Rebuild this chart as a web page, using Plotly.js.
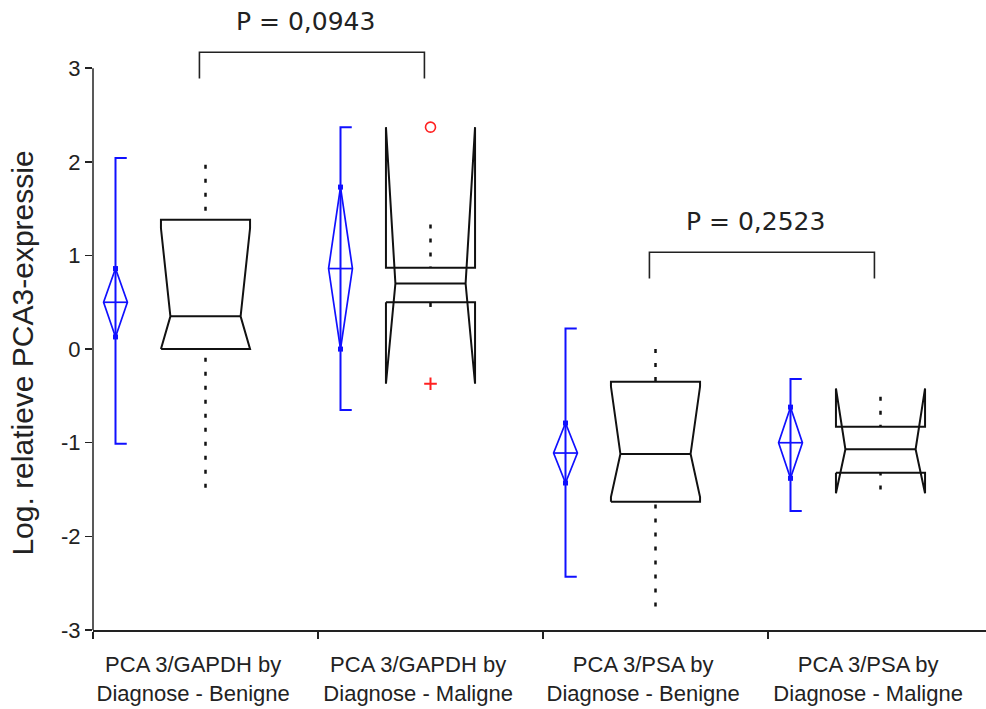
<!DOCTYPE html>
<html>
<head>
<meta charset="utf-8">
<script src="https://cdn.plot.ly/plotly-3.0.1.min.js"></script>
<style>html,body{margin:0;padding:0;background:#fff;}#chart{width:986px;height:709px;}</style>
</head>
<body>
<div id="chart"></div>
<script>
// ---- data ----
const categories = [
  "PCA 3/GAPDH by<br>Diagnose - Benigne",
  "PCA 3/GAPDH by<br>Diagnose - Maligne",
  "PCA 3/PSA by<br>Diagnose - Benigne",
  "PCA 3/PSA by<br>Diagnose - Maligne"
];
// notched box plots (quantiles)
const q1          = [0.00, 0.50, -1.63, -1.32];
const median      = [0.35, 0.70, -1.12, -1.07];
const q3          = [1.38, 0.87, -0.35, -0.83];
const notchLow    = [0.00, -0.37, -1.58, -1.54];
const notchHigh   = [1.29, 2.37, -0.40, -0.42];
const whiskerLow  = [-1.48, 0.45, -2.75, -1.50];
const whiskerHigh = [1.97, 1.33, 0.00, -0.51];
// outliers
const outlierCircleCat = [1];
const outlierCircleVal = [2.37];
const outlierPlusCat   = [1];
const outlierPlusVal   = [-0.37];
// means diamonds
const meanVal   = [0.50, 0.86, -1.11, -1.00];
const meanLow   = [0.13, 0.00, -1.43, -1.38];
const meanHigh  = [0.86, 1.73, -0.79, -0.62];
const rangeLow  = [-1.01, -0.65, -2.43, -1.73];
const rangeHigh = [2.04, 2.37, 0.22, -0.32];
// comparisons
const compFrom   = [0, 2];
const compTo     = [1, 3];
const compHeight = [3.17, 1.035];
const compText   = ["P = 0,0943", "P = 0,2523"];
// axis ticks and titles
const yTickVals = [-3, -2, -1, 0, 1, 2, 3];
const yTickText = ["-3", "-2", "-1", "0", "1", "2", "3"];
const yTitle = "Log. relatieve PCA3-expressie";

// ---- styling / geometry constants ----
const BOX_HW = 0.198, NOTCH_IN = 0.042;
const DIA_OFF = -0.40, DIA_HW = 0.053, CAP = 0.05;
const BR_OFF = -0.027, BR_DROP = 0.28, TXT_UP = 0.33;
const LABEL_OFF = -0.055;
const FONT = "Liberation Sans, Arial, sans-serif";

const traces = [];

// box outlines
const bx = [], by = [], mx = [], my = [];
const wx = [], wy = [];
categories.forEach((_, i) => {
  const c = i, w = BOX_HW, n = NOTCH_IN;
  const pts = [
    [c - w, q1[i]], [c + w, q1[i]], [c + w, notchLow[i]], [c + w - n, median[i]],
    [c + w, notchHigh[i]], [c + w, q3[i]], [c - w, q3[i]], [c - w, notchHigh[i]],
    [c - w + n, median[i]], [c - w, notchLow[i]], [c - w, q1[i]]
  ];
  pts.forEach(p => { bx.push(p[0]); by.push(p[1]); });
  bx.push(null); by.push(null);
  mx.push(c - w + n, c + w - n, null); my.push(median[i], median[i], null);
  wx.push(c, c, null, c, c, null);
  wy.push(whiskerHigh[i], q3[i], null, whiskerLow[i], q1[i], null);
});
traces.push({x: bx, y: by, mode: 'lines', line: {color: '#111', width: 2}, hoverinfo: 'skip'});
traces.push({x: mx, y: my, mode: 'lines', line: {color: '#111', width: 2}, hoverinfo: 'skip'});
traces.push({x: wx, y: wy, mode: 'lines', line: {color: '#111', width: 2.5, dash: '4px,10px'}, hoverinfo: 'skip'});

// outliers
traces.push({x: outlierCircleCat, y: outlierCircleVal, mode: 'markers',
  marker: {symbol: 'circle-open', size: 10, color: '#ff2020', line: {width: 1.6}}});
traces.push({x: outlierPlusCat, y: outlierPlusVal, mode: 'markers',
  marker: {symbol: 'cross-thin-open', size: 9, color: '#ff2020', line: {width: 2, color: '#ff2020'}}});

// means diamonds
const dx = [], dy = [], lx = [], ly = [], ax = [], ay = [];
categories.forEach((_, i) => {
  const c = i + DIA_OFF;
  dx.push(c, c + DIA_HW, c, c - DIA_HW, c, null);
  dy.push(meanHigh[i], meanVal[i], meanLow[i], meanVal[i], meanHigh[i], null);
  dx.push(c - DIA_HW, c + DIA_HW, null);
  dy.push(meanVal[i], meanVal[i], null);
  lx.push(c + CAP, c, c, c + CAP, null);
  ly.push(rangeHigh[i], rangeHigh[i], rangeLow[i], rangeLow[i], null);
  ax.push(c, c); ay.push(meanHigh[i], meanLow[i]);
});
traces.push({x: lx, y: ly, mode: 'lines', line: {color: '#1010ff', width: 2}, hoverinfo: 'skip'});
traces.push({x: dx, y: dy, mode: 'lines', line: {color: '#1010ff', width: 1.7}, hoverinfo: 'skip'});
traces.push({x: ax, y: ay, mode: 'markers', marker: {symbol: 'square', size: 5, color: '#1010ff'}, hoverinfo: 'skip'});

// comparison brackets
const kx = [], ky = [];
const annotations = [];
compFrom.forEach((a, k) => {
  const b = compTo[k];
  const x0 = a + BR_OFF, x1 = b + BR_OFF, h = compHeight[k];
  kx.push(x0, x0, x1, x1, null);
  ky.push(h - BR_DROP, h, h, h - BR_DROP, null);
  annotations.push({x: (x0 + x1) / 2 - 0.03, y: h + TXT_UP, xref: 'x', yref: 'y',
    text: compText[k], showarrow: false, yanchor: 'middle',
    font: {family: "DejaVu Sans, Verdana, sans-serif", size: 25, color: '#222'}});
});
traces.push({x: kx, y: ky, mode: 'lines', line: {color: '#222', width: 1.6}, hoverinfo: 'skip'});

// y-axis title as rotated text
annotations.push({x: -0.079, y: 0.448, xref: 'paper', yref: 'paper', text: yTitle,
  textangle: -90, showarrow: false, xanchor: 'center', yanchor: 'middle',
  font: {size: 30, family: FONT, color: '#222'}});

const layout = {
  width: 986, height: 709,
  margin: {l: 93, r: 0, t: 12, b: 79},
  paper_bgcolor: '#fff', plot_bgcolor: '#fff',
  showlegend: false,
  font: {family: FONT, color: '#222'},
  xaxis: {
    range: [-0.5, -0.5 + 893 / 225],
    tickvals: categories.map((_, i) => i + LABEL_OFF), ticktext: categories,
    ticks: '', showgrid: false, zeroline: false,
    showline: true, linecolor: '#222', linewidth: 1.5,
    tickfont: {size: 22, family: FONT, color: '#222'},
    ticklabelstandoff: 14,
    minor: {tickvals: [-0.5, 0.5, 1.5, 2.5], ticks: 'outside', ticklen: 7, tickcolor: '#222', tickwidth: 1.5, showgrid: false}
  },
  yaxis: {
    range: [-3, 3.6],
    tickvals: yTickVals, ticktext: yTickText,
    ticks: 'outside', ticklen: 7, tickcolor: '#222', tickwidth: 1.5,
    showgrid: false, zeroline: false, showline: false,
    tickfont: {size: 22, family: FONT, color: '#222'},
    ticklabelstandoff: 0
  },
  shapes: [{type: 'line', xref: 'paper', yref: 'y', x0: 0, x1: 0, y0: -3, y1: 3, line: {color: '#222', width: 1.5}}],
  annotations: annotations
};

Plotly.newPlot('chart', traces, layout, {displayModeBar: false, staticPlot: true});
</script>
</body>
</html>
